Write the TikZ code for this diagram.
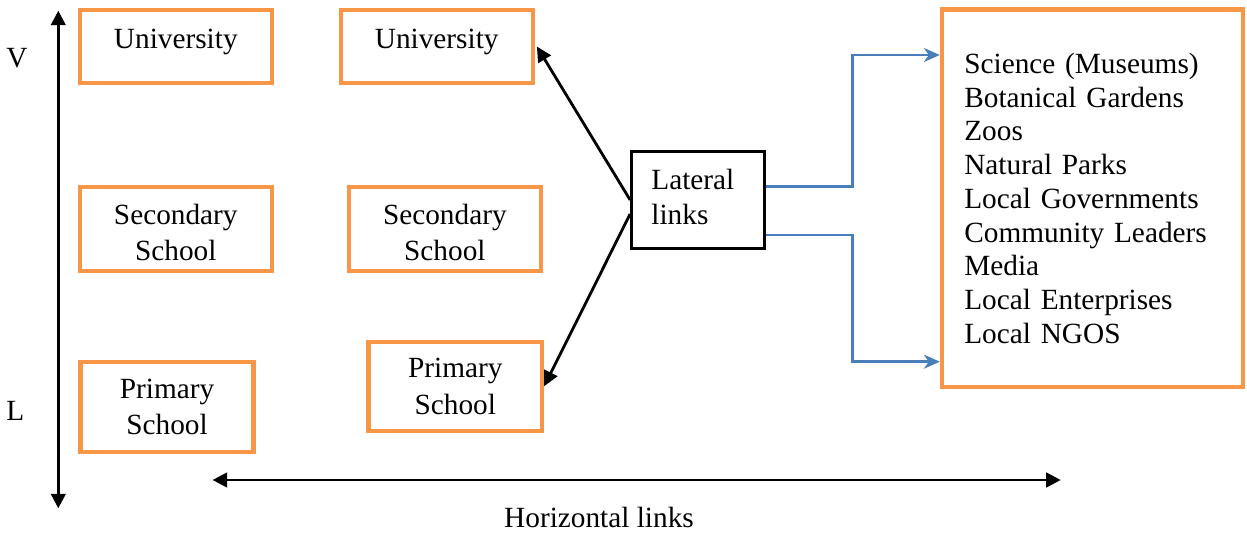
\documentclass[tikz,border=0pt]{standalone}
\usepackage{fontspec}
\setmainfont{Liberation Serif}
\usetikzlibrary{arrows.meta}
\definecolor{boxorange}{RGB}{247,150,70}
\definecolor{linkblue}{RGB}{74,126,187}
\begin{document}
\begin{tikzpicture}[x=1pt,y=-1pt,
  every node/.style={font=\fontsize{29.3}{36.5}\selectfont, inner sep=0pt},
  obox/.style={draw=boxorange, line width=4.3pt, align=center},
  lbox/.style={draw=black, line width=2.7pt},
  blk/.style={line width=2.8pt, -{Triangle[length=15pt,width=14.5pt]}},
  blkboth/.style={line width=2.8pt, {Triangle[length=14.5pt,width=14.5pt]}-{Triangle[length=14.5pt,width=14.5pt]}},
  blu/.style={draw=linkblue, line width=2.8pt, -{Stealth[length=16pt,width=14pt,inset=5pt]}},
  lbl/.style={anchor=base}
]
\fill[white] (0,0) rectangle (1247,534);
\useasboundingbox (0,0) rectangle (1247,534);

% left column
\node[obox, minimum width=191.7pt, minimum height=73.6pt, text height=20pt, text depth=16.4pt] (u1) at (175.8,46.5) {University};
\node[obox, minimum width=191.7pt, minimum height=84pt] (s1) at (175.8,228.7) {\rule{0pt}{28pt}Secondary\\School};
\node[obox, minimum width=173.1pt, minimum height=90.6pt] (p1) at (167.05,407) {Primary\\School};

% middle column
\node[obox, minimum width=192pt, minimum height=73.6pt, text height=20pt, text depth=16.4pt] (u2) at (436.7,46.5) {University};
\node[obox, minimum width=191.7pt, minimum height=84pt] (s2) at (444.85,228.7) {\rule{0pt}{28pt}Secondary\\School};
\node[obox, minimum width=173.4pt, minimum height=89pt] (p2) at (455.3,386.2) {Primary\\School};

% lateral links
\node[lbox, minimum width=132.8pt, minimum height=96.6pt, text width=93pt, align=left,
      font=\fontsize{29.3}{35}\selectfont] (lat) at (697.9,200) {Lateral\\links\rule[-6pt]{0pt}{6pt}};

% big list box
\node[obox, minimum width=301pt, minimum height=377.5pt, text width=256.4pt, align=left,
      font=\fontsize{29.3}{33.75}\selectfont] (big) at (1092.5,198.25)
  {Science (Museums)\\Botanical Gardens\\Zoos\\Natural Parks\\Local Governments\\Community Leaders\\Media\\Local Enterprises\\Local NGOS};

% labels
\node[lbl] (v) at (17,68) {V};
\node[lbl] (l) at (15.4,420.7) {L};
\node[lbl] (hl) at (599,527.7) {Horizontal links};

% axes
\coordinate (vtop) at (58.3,10.7);
\coordinate (vbot) at (58.3,508.3);
\coordinate (hleft) at (212.6,480);
\coordinate (hright) at (1060.7,480);
\draw[blkboth] (vtop) -- (vbot);
\draw[blkboth] (hleft) -- (hright);

% lateral arrows
\draw[blk] (lat.west) -- ([xshift=2pt]u2.east);
\draw[blk] ([yshift=-14pt]lat.west) -- (p2.east);

% blue connectors
\draw[blu] ([yshift=13.3pt]lat.east) -- ++(86.7,0) |- ([yshift=143.25pt]big.west);
\draw[blu] ([yshift=-35pt]lat.east) -- ++(86.7,0) |- ([yshift=-163.45pt]big.west);
\end{tikzpicture}
\end{document}
